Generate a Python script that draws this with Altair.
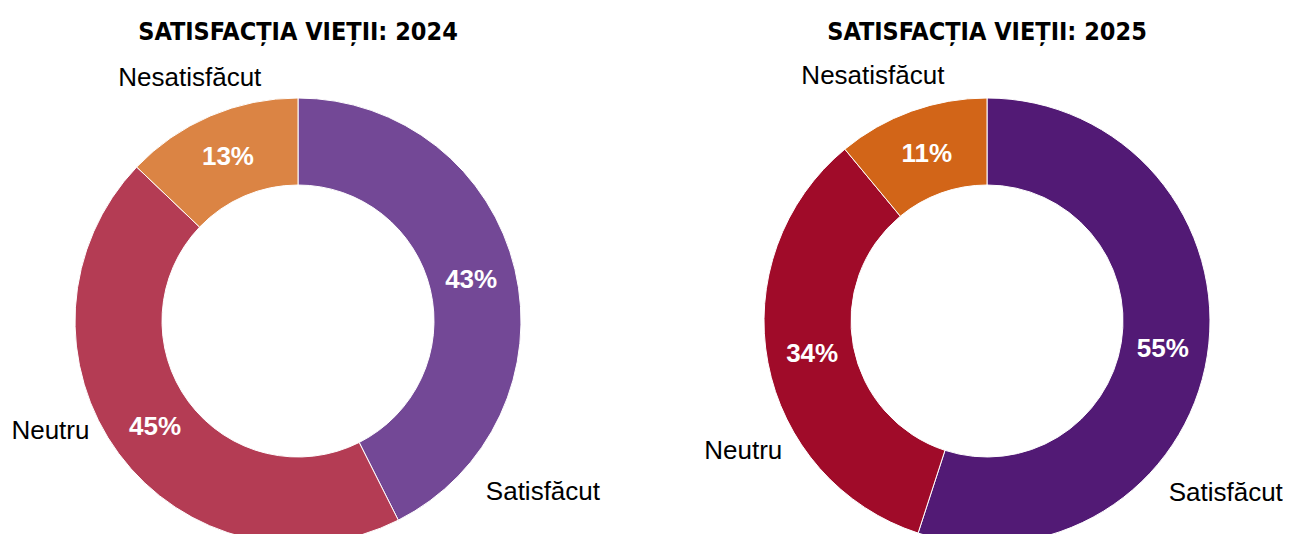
import altair as alt
import pandas as pd

# ---- data ----
categories = ["Satisfăcut", "Neutru", "Nesatisfăcut"]
values_2024 = [43, 45, 13]
values_2025 = [55, 34, 11]
titles = {"2024": "SATISFACȚIA VIEȚII: 2024", "2025": "SATISFACȚIA VIEȚII: 2025"}

# ---- styles / layout (not data) ----
colors_2024 = ["#734896", "#B43C54", "#DB8444"]
colors_2025 = ["#521A75", "#A00B29", "#D26518"]
# outer label placement: angle (deg, clockwise from 12 o'clock) and radius (px)
label_layout_2024 = {"angle": [125, 246, 336], "radius": [299, 271, 266]}
label_layout_2025 = {"angle": [125.7, 242, 335], "radius": [294, 276, 270]}

W, H = 580, 526
CX, CY = 290, 313
R_OUT, R_IN = 223, 136
R_PCT = 178
TITLE_FONT = "'DejaVu Sans Condensed', 'Roboto', sans-serif"


def panel(year, values, colors, layout):
    df = pd.DataFrame({
        "cat": categories,
        "value": values,
        "ord": list(range(len(categories))),
        "pct": [f"{v}%" for v in values],
        "la": layout["angle"],
        "lr": layout["radius"],
    })
    base = alt.Chart(df)
    color = alt.Color("cat:N", scale=alt.Scale(domain=categories, range=colors), legend=None)

    arcs = base.mark_arc(outerRadius=R_OUT, innerRadius=R_IN, stroke="white",
                         strokeWidth=1, clip=True).encode(
        theta=alt.Theta("value:Q", stack=True),
        order=alt.Order("ord:Q"),
        color=color,
        x=alt.value(CX),
        y=alt.value(CY),
    )
    pct = base.mark_text(radius=R_PCT, font="Liberation Sans", fontWeight="bold",
                         fontSize=26, color="white", align="center",
                         baseline="middle").encode(
        theta=alt.Theta("value:Q", stack=True),
        order=alt.Order("ord:Q"),
        text="pct:N",
        x=alt.value(CX),
        y=alt.value(CY),
    )
    outer = base.transform_calculate(
        lx=f"{CX} + datum.lr * sin(datum.la * PI / 180)",
        ly=f"{CY} - datum.lr * cos(datum.la * PI / 180)",
    ).mark_text(font="Liberation Sans", fontSize=26, color="#000000",
                align="center", baseline="middle").encode(
        x=alt.X("lx:Q", scale=None, axis=None),
        y=alt.Y("ly:Q", scale=None, axis=None),
        text="cat:N",
    )
    title = alt.Chart(pd.DataFrame({"t": [titles[year]]})).mark_text(
        font=TITLE_FONT, fontWeight="bold", fontSize=25,
        color="#000000", align="center", baseline="alphabetic").encode(
        x=alt.value(CX), y=alt.value(32), text="t:N")

    return alt.layer(arcs, pct, outer, title).resolve_scale(
        theta="independent", color="independent"
    ).properties(width=W, height=H)


left = panel("2024", values_2024, colors_2024, label_layout_2024)
right = panel("2025", values_2025, colors_2025, label_layout_2025)

chart = alt.hconcat(left, right, spacing=96).resolve_scale(
    color="independent", theta="independent"
).properties(padding=0).configure_view(stroke=None)

chart.save("out.html", embed_options={"renderer": "svg", "actions": False})
